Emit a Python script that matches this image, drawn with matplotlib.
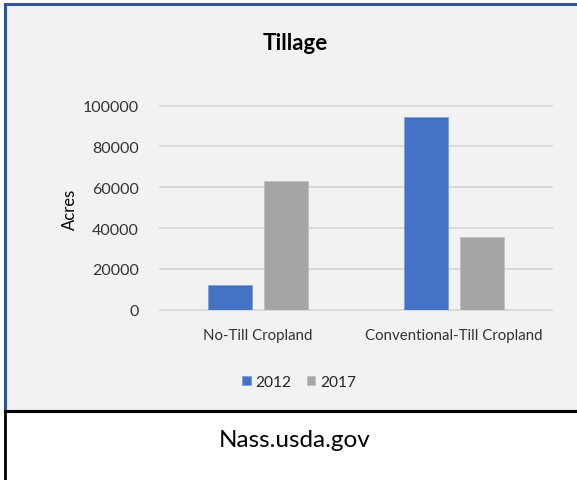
import matplotlib.pyplot as plt
import matplotlib.patches as patches
import numpy as np

plt.rcParams['font.family'] = ['Lato', 'DejaVu Sans']

categories = ['No-Till Cropland', 'Conventional-Till Cropland']
years = ['2012', '2017']
acres_2012 = [12000, 94500]
acres_2017 = [63000, 35500]
y_ticks = [0, 20000, 40000, 60000, 80000, 100000]

W, H = 577, 481
fig = plt.figure(figsize=(W / 100, H / 100), dpi=100)
fig.patch.set_facecolor('white')

# chart panel with blue frame, white caption box underneath
panel_top = 1 - 5 / H
panel_bot = 1 - 412 / H
left = 5 / W
fig.patches.append(patches.Rectangle((left, panel_bot), 1 - left + 0.01, panel_top - panel_bot,
                                     transform=fig.transFigure, facecolor='#f2f2f2',
                                     edgecolor='#2f5597', linewidth=2.2, zorder=-5))
fig.lines.append(plt.Line2D([left, left], [0, panel_bot], transform=fig.transFigure,
                            color='black', linewidth=2, zorder=-4))
fig.lines.append(plt.Line2D([left, 1], [panel_bot, panel_bot], transform=fig.transFigure,
                            color='black', linewidth=2.2, zorder=-4))

ax = fig.add_axes([160 / W, 1 - 310.7 / H, 392 / W, 204 / H])
ax.set_facecolor('none')
ax.set_zorder(1)

x = np.arange(len(categories))
w = 0.224
ax.bar(x - 0.142, acres_2012, w, color='#4472c4', edgecolor='#7f9fd8', linewidth=0.6,
       label=years[0], zorder=3)
ax.bar(x + 0.142, acres_2017, w, color='#a5a5a5', edgecolor='#c0c0c0', linewidth=0.6,
       label=years[1], zorder=3)

ax.set_xlim(-0.5, 1.5)
ax.set_ylim(0, 100000)
ax.set_yticks(y_ticks)
ax.set_yticklabels([str(v) for v in y_ticks], fontsize=11.5, color='#333333')
ax.set_xticks(x)
ax.set_xticklabels(categories, fontsize=10.8, color='#333333')
ax.tick_params(axis='y', length=0, pad=15)
ax.tick_params(axis='x', length=0, pad=13)
for s in ax.spines.values():
    s.set_visible(False)
ax.yaxis.grid(True, color='#d9d9d9', linewidth=1.4, zorder=0)
ax.set_axisbelow(True)
for gl in ax.get_ygridlines():
    gl.set_clip_on(False)

fig.text(70 / W, 1 - 209 / H, 'Acres', rotation=90, ha='center', va='center',
         fontsize=12, color='black')
fig.text(295 / W, 1 - 43 / H, 'Tillage', ha='center', va='center',
         fontsize=16, fontweight='bold', color='black')

fig.legend(loc='center', bbox_to_anchor=(299 / W, 1 - 383 / H), ncol=2, frameon=False,
           fontsize=11.2, handlelength=0.55, handleheight=0.55, handletextpad=0.3,
           columnspacing=1.0, labelcolor='#262626')

fig.text(295 / W, 1 - 441 / H, 'Nass.usda.gov', ha='center', va='center',
         fontsize=17.5, color='black')

fig.savefig('out.png', dpi=100)
